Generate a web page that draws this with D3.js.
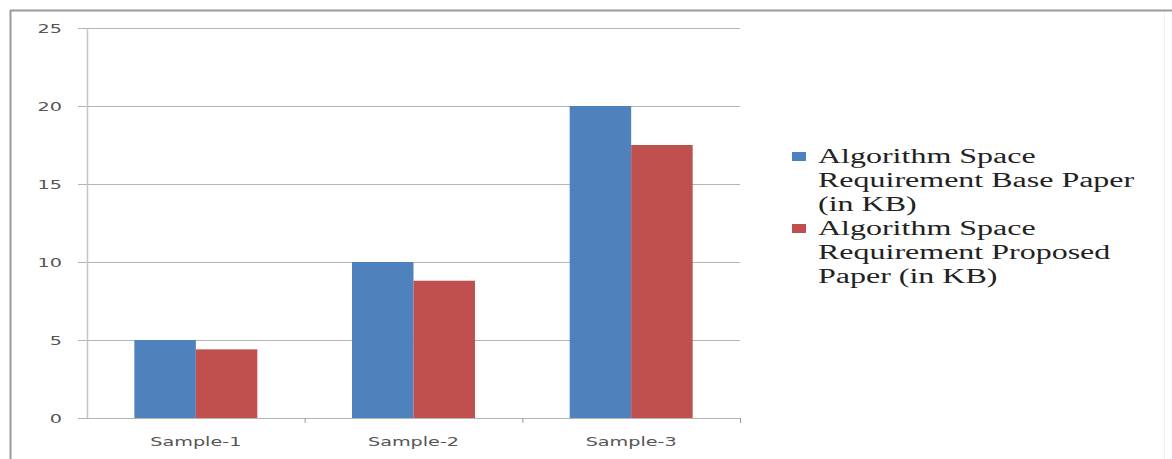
<!DOCTYPE html>
<html>
<head>
<meta charset="utf-8">
<script src="https://cdn.jsdelivr.net/npm/d3@7/dist/d3.min.js"></script>
<style>
  html, body { margin: 0; padding: 0; background: #fff; }
  svg { display: block; }
</style>
</head>
<body>
<svg id="chart" width="1172" height="459"></svg>
<script>
// Space requirement per sample, in KB
const categories = ["Sample-1", "Sample-2", "Sample-3"];
const seriesNames = [
  "Algorithm Space Requirement Base Paper (in KB)",
  "Algorithm Space Requirement Proposed Paper (in KB)"
];
const basePaper = [5, 10, 20];
const proposedPaper = [4.4, 8.8, 17.5];
const yTicks = [0, 5, 10, 15, 20, 25];
// Legend entries wrapped onto lines
const legendLines = [
  ["Algorithm Space", "Requirement Base Paper", "(in KB)"],
  ["Algorithm Space", "Requirement Proposed", "Paper (in KB)"]
];

const colors = ["#4F81BD", "#C0504D"];
const SX = 1.6;               // horizontal stretch applied to all text
const svg = d3.select("#chart");

// Outer frame
svg.append("line").attr("x1", 10.5).attr("x2", 10.5).attr("y1", 10).attr("y2", 459)
  .attr("stroke", "#9a9a9a").attr("stroke-width", 2);
svg.append("line").attr("x1", 10).attr("x2", 1172).attr("y1", 10.5).attr("y2", 10.5)
  .attr("stroke", "#9a9a9a").attr("stroke-width", 2);
svg.append("line").attr("x1", 1164.5).attr("x2", 1164.5).attr("y1", 12).attr("y2", 459)
  .attr("stroke", "#f0f0f0").attr("stroke-width", 1);

const plot = { left: 87, right: 740, top: 28, bottom: 418 };
const width = plot.right - plot.left;
const height = plot.bottom - plot.top;

const g = svg.append("g").attr("transform", `translate(${plot.left},${plot.top})`);

const y = d3.scaleLinear().domain([0, 25]).range([height, 0]);
const pIn = 0.435;
const x = d3.scaleBand().domain(categories).range([0, width])
  .paddingInner(pIn).paddingOuter(pIn / 2);
const x1 = d3.scaleBand().domain(d3.range(seriesNames.length)).range([0, x.bandwidth()]);

// Gridlines
g.append("g").selectAll("line").data(yTicks.filter(v => v > 0)).join("line")
  .attr("x1", 0).attr("x2", width)
  .attr("y1", d => y(d) + 0.5).attr("y2", d => y(d) + 0.5)
  .attr("stroke", "#b4b4b4").attr("stroke-width", 1);

// Y axis
const yAxis = g.append("g").call(d3.axisLeft(y).tickValues(yTicks).tickSize(9).tickSizeOuter(0));
yAxis.select(".domain").attr("stroke", "#c4c4c4").attr("stroke-width", 1.5);
yAxis.selectAll(".tick line").attr("stroke", "#b4b4b4");
yAxis.selectAll(".tick text")
  .attr("x", 0).attr("dy", "0.35em")
  .attr("transform", "translate(-25,0) scale(" + SX + ",1)")
  .attr("fill", "#555").attr("font-family", "'DejaVu Sans', sans-serif").attr("font-size", 12)
  .attr("text-anchor", "end");

// Bars
const rows = categories.map((c, i) => ({ cat: c, values: [basePaper[i], proposedPaper[i]] }));
g.append("g").selectAll("g").data(rows).join("g")
  .attr("transform", d => `translate(${x(d.cat)},0)`)
  .selectAll("rect").data(d => d.values.map((v, k) => ({ v, k }))).join("rect")
  .attr("x", d => x1(d.k)).attr("width", x1.bandwidth())
  .attr("y", d => y(d.v)).attr("height", d => y(0) - y(d.v))
  .attr("fill", d => colors[d.k]);

// X axis line and category boundary ticks
g.append("line").attr("x1", 0).attr("x2", width).attr("y1", height + 0.5).attr("y2", height + 0.5)
  .attr("stroke", "#b4b4b4").attr("stroke-width", 1);
g.append("g").selectAll("line").data(d3.range(1, categories.length + 1)).join("line")
  .attr("x1", i => i * x.step() + 0.5).attr("x2", i => i * x.step() + 0.5)
  .attr("y1", height).attr("y2", height + 5)
  .attr("stroke", "#999");

// Category labels
g.append("g").selectAll("text").data(categories).join("text")
  .attr("transform", d => `translate(${x(d) + x.bandwidth() / 2},${height + 28}) scale(${SX},1)`)
  .attr("text-anchor", "middle")
  .attr("fill", "#555").attr("font-family", "'DejaVu Sans', sans-serif").attr("font-size", 12)
  .text(d => d);

// Legend
const legend = svg.append("g").attr("transform", "translate(792,152)");
const lineH = 24;
legendLines.forEach((lines, k) => {
  const top = k * lines.length * lineH;
  legend.append("rect").attr("x", 0).attr("y", top).attr("width", 14).attr("height", 9)
    .attr("fill", colors[k]);
  lines.forEach((t, j) => {
    legend.append("text")
      .attr("transform", `translate(26,${top + 11 + j * lineH}) scale(${SX},1)`)
      .attr("fill", "#222").attr("font-family", "'Liberation Serif', 'Times New Roman', serif")
      .attr("font-size", 20)
      .text(t);
  });
});
</script>
</body>
</html>
